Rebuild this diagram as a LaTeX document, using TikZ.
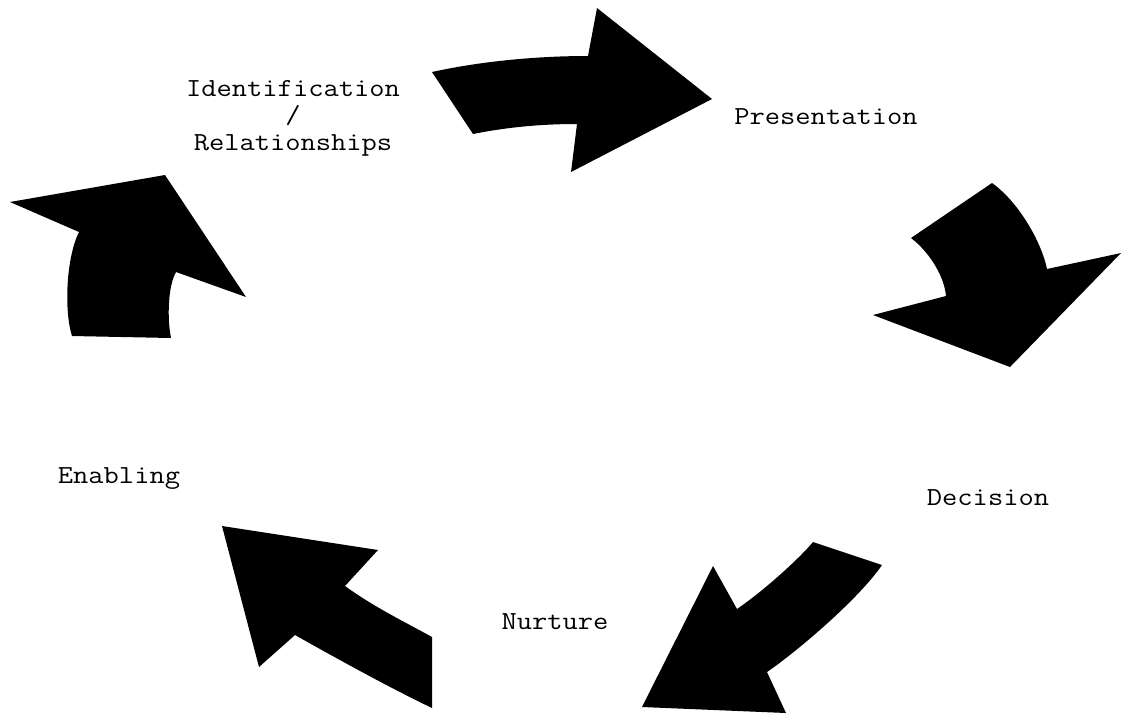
\documentclass[tikz,border=0pt]{standalone}
\usepackage{graphicx}
\newcommand{\wtxt}[1]{\scalebox{1.14}[1]{#1}}
\begin{document}
\begin{tikzpicture}[x=0.75pt,y=-0.75pt,
  arrowshape/.style={fill=black,draw=none},
  lbl/.style={font=\ttfamily\fontsize{19.5}{19.9}\selectfont, anchor=base, inner sep=0pt, align=center}]
\useasboundingbox (0,0) rectangle (1121,715);
% top arrow (to Presentation)
\fill[arrowshape] (432,72) .. controls (482,61) and (538,56) .. (588,56) -- (597,8) -- (712,99) -- (571,172) -- (577,124)
  .. controls (542,124) and (508,127) .. (473,134) -- cycle;
% right arrow (to Decision)
\fill[arrowshape] (992,183) .. controls (1020,203) and (1042,244) .. (1047,269) -- (1121,253) -- (1010,367) -- (873,315) -- (946,296)
  .. controls (944,274) and (927,250) .. (911,238) -- cycle;
% bottom right arrow (to Nurture)
\fill[arrowshape] (813,542) -- (882,565) .. controls (858,600) and (795,653) .. (767,672) -- (786,713) -- (642,707) -- (713,566) -- (737,609)
  .. controls (762,592) and (798,560) .. (813,542) -- cycle;
% bottom left arrow (to Enabling)
\fill[arrowshape] (222,526) -- (378,550) -- (345,586) .. controls (374,607) and (403,621) .. (432,637) -- (432,708)
  .. controls (386,686) and (327,653) .. (295,635) -- (259,667) -- cycle;
% left arrow (to Identification)
\fill[arrowshape] (10,202) -- (165,175) -- (246,297) -- (176,272) .. controls (168,286) and (167,318) .. (171,338) -- (72,336)
  .. controls (64,311) and (66,258) .. (79,232) -- cycle;
% labels
\node[lbl] (ident) at (293,150) {\wtxt{Identification}\\\wtxt{/}\\\wtxt{Relationships}};
\node[lbl] (pres) at (826,124) {\wtxt{Presentation}};
\node[lbl] (deci) at (988,505) {\wtxt{Decision}};
\node[lbl] (nurt) at (555,629) {\wtxt{Nurture}};
\node[lbl] (enab) at (119,483) {\wtxt{Enabling}};
\end{tikzpicture}
\end{document}
